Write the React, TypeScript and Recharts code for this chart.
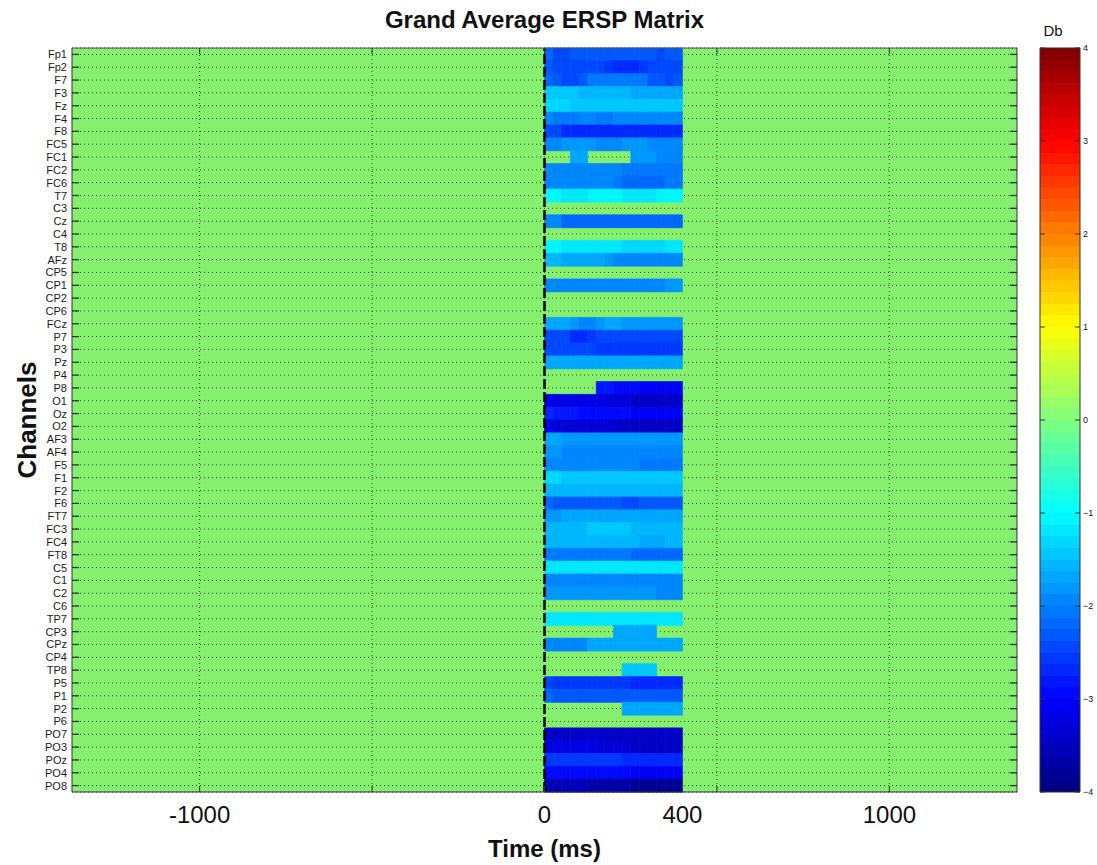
import { Bar, BarChart, CartesianGrid, Cell, ReferenceLine, XAxis, YAxis } from "recharts";

const channels = [
  "Fp1", "Fp2", "F7", "F3", "Fz", "F4", "F8", "FC5", "FC1", "FC2", "FC6", "T7", "C3", "Cz", "C4",
  "T8", "AFz", "CP5", "CP1", "CP2", "CP6", "FCz", "P7", "P3", "Pz", "P4", "P8", "O1", "Oz", "O2",
  "AF3", "AF4", "F5", "F1", "F2", "F6", "FT7", "FC3", "FC4", "FT8", "C5", "C1", "C2", "C6", "TP7",
  "CP3", "CPz", "CP4", "TP8", "P5", "P1", "P2", "P6", "PO7", "PO3", "POz", "PO4", "PO8",
];

// edges of the 25 ms time bins (ms)
const timeBins = [0, 25, 50, 75, 100, 125, 150, 175, 200, 225, 250, 275, 300, 325, 350, 375, 400];

const xLabelTicks = [-1000, 0, 400, 1000];
const xGridTicks = [-1000, -500, 0, 500, 1000];
const colorbarTicks = [-4, -3, -2, -1, 0, 1, 2, 3, 4];

// dB per channel, one value per time bin (0 = not significant)
const ersp: number[][] = [
  [-2.2, -2.4, -2.4, -2.3, -2.3, -2.3, -2.3, -2.3, -2.3, -2.3, -2.3, -2.3, -2.3, -2.4, -2.3, -2.3], // Fp1
  [-2.3, -2.4, -2.4, -2.4, -2.4, -2.4, -2.4, -2.6, -2.7, -2.7, -2.7, -2.6, -2.4, -2.4, -2.4, -2.4], // Fp2
  [-2.2, -2.3, -2.4, -2.4, -2.3, -2.1, -2.1, -2.1, -2.1, -2.1, -2.1, -2.1, -2.3, -2.3, -2.4, -2.3], // F7
  [-1.4, -1.4, -1.5, -1.5, -1.6, -1.6, -1.6, -1.6, -1.6, -1.6, -1.7, -1.7, -1.7, -1.7, -1.7, -1.7], // F3
  [-1.3, -1.3, -1.3, -1.4, -1.4, -1.4, -1.4, -1.5, -1.5, -1.5, -1.5, -1.5, -1.5, -1.5, -1.5, -1.5], // Fz
  [-2.0, -2.1, -2.1, -2.1, -2.0, -2.0, -2.1, -2.1, -2.0, -2.0, -2.0, -2.0, -2.0, -2.0, -2.0, -2.0], // F4
  [-2.5, -2.5, -2.7, -2.7, -2.7, -2.7, -2.7, -2.7, -2.7, -2.7, -2.7, -2.7, -2.7, -2.7, -2.7, -2.7], // F8
  [-1.9, -1.9, -1.8, -1.8, -1.8, -1.8, -1.9, -2.0, -1.9, -1.8, -1.8, -1.8, -1.9, -1.9, -1.9, -1.9], // FC5
  [0, 0, 0, -1.7, -1.7, 0, 0, 0, 0, 0, -1.8, -1.8, -1.8, -1.9, -1.9, -1.9], // FC1
  [-2.0, -2.0, -2.0, -2.0, -2.0, -2.0, -2.0, -2.0, -2.0, -2.1, -2.1, -2.1, -2.1, -2.1, -2.1, -2.1], // FC2
  [-2.0, -2.0, -2.0, -2.0, -2.0, -2.0, -2.0, -2.0, -2.1, -2.2, -2.2, -2.2, -2.2, -2.2, -2.1, -2.1], // FC6
  [-1.1, -1.1, -1.2, -1.2, -1.2, -1.1, -1.1, -1.1, -1.1, -1.2, -1.2, -1.2, -1.2, -1.1, -1.1, -1.1], // T7
  [0, 0, 0, 0, 0, 0, 0, 0, 0, 0, 0, 0, 0, 0, 0, 0], // C3
  [-2.0, -2.0, -2.2, -2.2, -2.2, -2.2, -2.2, -2.2, -2.2, -2.2, -2.2, -2.2, -2.2, -2.2, -2.2, -2.2], // Cz
  [0, 0, 0, 0, 0, 0, 0, 0, 0, 0, 0, 0, 0, 0, 0, 0], // C4
  [-1.1, -1.1, -1.2, -1.2, -1.2, -1.2, -1.2, -1.2, -1.2, -1.3, -1.3, -1.3, -1.3, -1.3, -1.2, -1.2], // T8
  [-1.6, -1.6, -1.7, -1.7, -1.7, -1.7, -1.7, -1.8, -1.9, -1.9, -1.9, -1.9, -1.9, -1.9, -1.9, -1.9], // AFz
  [0, 0, 0, 0, 0, 0, 0, 0, 0, 0, 0, 0, 0, 0, 0, 0], // CP5
  [-2.0, -2.0, -2.0, -2.0, -2.0, -2.0, -2.0, -2.0, -2.0, -2.0, -2.0, -2.0, -2.0, -2.0, -1.8, -1.8], // CP1
  [0, 0, 0, 0, 0, 0, 0, 0, 0, 0, 0, 0, 0, 0, 0, 0], // CP2
  [0, 0, 0, 0, 0, 0, 0, 0, 0, 0, 0, 0, 0, 0, 0, 0], // CP6
  [-1.7, -1.7, -1.7, -1.8, -1.9, -1.9, -1.8, -1.7, -1.7, -1.8, -1.8, -1.8, -1.8, -1.8, -1.8, -1.8], // FCz
  [-2.4, -2.4, -2.5, -2.7, -2.7, -2.6, -2.5, -2.5, -2.5, -2.5, -2.5, -2.5, -2.5, -2.5, -2.5, -2.5], // P7
  [-2.4, -2.4, -2.4, -2.4, -2.4, -2.4, -2.6, -2.6, -2.6, -2.6, -2.6, -2.6, -2.6, -2.6, -2.6, -2.6], // P3
  [-1.7, -1.7, -1.7, -1.7, -1.7, -1.7, -1.7, -1.7, -1.7, -1.7, -1.7, -1.7, -1.7, -1.7, -1.7, -1.7], // Pz
  [0, 0, 0, 0, 0, 0, 0, 0, 0, 0, 0, 0, 0, 0, 0, 0], // P4
  [0, 0, 0, 0, 0, 0, -2.8, -2.8, -2.9, -3.0, -3.0, -3.1, -3.1, -3.1, -3.1, -3.1], // P8
  [-3.2, -3.2, -3.2, -3.2, -3.2, -3.2, -3.2, -3.3, -3.3, -3.3, -3.4, -3.4, -3.4, -3.4, -3.4, -3.4], // O1
  [-2.7, -2.8, -2.8, -2.8, -2.9, -2.9, -2.9, -2.9, -2.9, -3.0, -3.1, -3.1, -3.1, -3.1, -3.1, -3.1], // Oz
  [-3.2, -3.3, -3.3, -3.3, -3.3, -3.3, -3.3, -3.3, -3.4, -3.4, -3.4, -3.4, -3.5, -3.5, -3.5, -3.4], // O2
  [-1.7, -1.7, -1.8, -1.8, -1.8, -1.8, -1.8, -1.8, -1.8, -1.8, -1.8, -1.8, -1.8, -1.8, -1.8, -1.8], // AF3
  [-1.8, -1.8, -1.9, -1.9, -1.9, -1.9, -1.9, -1.9, -1.9, -2.0, -2.0, -2.0, -2.0, -2.0, -2.0, -2.0], // AF4
  [-1.9, -1.9, -1.9, -1.9, -1.9, -1.9, -1.9, -1.9, -2.0, -2.0, -2.0, -2.1, -2.1, -2.1, -2.1, -2.1], // F5
  [-1.35, -1.35, -1.4, -1.5, -1.5, -1.5, -1.5, -1.5, -1.5, -1.5, -1.5, -1.5, -1.5, -1.5, -1.5, -1.5], // F1
  [-1.6, -1.6, -1.6, -1.6, -1.6, -1.6, -1.6, -1.6, -1.6, -1.6, -1.6, -1.6, -1.6, -1.6, -1.6, -1.6], // F2
  [-2.2, -2.3, -2.3, -2.3, -2.3, -2.3, -2.3, -2.3, -2.3, -2.5, -2.5, -2.3, -2.3, -2.3, -2.3, -2.3], // F6
  [-1.8, -1.8, -1.7, -1.7, -1.7, -1.7, -1.7, -1.7, -1.7, -1.7, -1.7, -1.7, -1.7, -1.7, -1.7, -1.7], // FT7
  [-1.6, -1.6, -1.6, -1.6, -1.6, -1.5, -1.5, -1.5, -1.5, -1.5, -1.6, -1.6, -1.6, -1.6, -1.6, -1.6], // FC3
  [-1.6, -1.6, -1.6, -1.6, -1.6, -1.6, -1.6, -1.6, -1.6, -1.6, -1.6, -1.7, -1.7, -1.7, -1.6, -1.6], // FC4
  [-2.1, -2.1, -2.1, -2.1, -2.1, -2.1, -2.1, -2.1, -2.1, -2.1, -2.2, -2.2, -2.2, -2.2, -2.2, -2.2], // FT8
  [-1.25, -1.25, -1.25, -1.25, -1.25, -1.25, -1.25, -1.25, -1.25, -1.25, -1.25, -1.25, -1.25, -1.25, -1.25, -1.25], // C5
  [-1.9, -1.9, -2.0, -2.0, -2.0, -2.0, -2.0, -2.0, -2.0, -2.0, -2.0, -2.0, -2.0, -2.0, -2.0, -2.0], // C1
  [-1.8, -1.8, -1.8, -1.8, -1.8, -1.8, -1.8, -1.8, -1.8, -1.8, -1.8, -1.8, -1.8, -2.0, -2.0, -2.0], // C2
  [0, 0, 0, 0, 0, 0, 0, 0, 0, 0, 0, 0, 0, 0, 0, 0], // C6
  [-1.25, -1.25, -1.25, -1.25, -1.25, -1.25, -1.25, -1.25, -1.25, -1.25, -1.25, -1.15, -1.15, -1.15, -1.15, -1.15], // TP7
  [0, 0, 0, 0, 0, 0, 0, 0, -1.7, -1.7, -1.7, -1.7, -1.7, 0, 0, 0], // CP3
  [-1.9, -1.9, -1.9, -1.9, -1.9, -1.75, -1.75, -1.75, -1.75, -1.75, -1.75, -1.75, -1.75, -1.75, -1.75, -1.75], // CPz
  [0, 0, 0, 0, 0, 0, 0, 0, 0, 0, 0, 0, 0, 0, 0, 0], // CP4
  [0, 0, 0, 0, 0, 0, 0, 0, 0, -1.5, -1.5, -1.5, -1.5, 0, 0, 0], // TP8
  [-2.5, -2.6, -2.6, -2.6, -2.6, -2.6, -2.6, -2.6, -2.6, -2.6, -2.7, -2.7, -2.7, -2.7, -2.7, -2.7], // P5
  [-2.2, -2.35, -2.35, -2.35, -2.35, -2.35, -2.35, -2.35, -2.35, -2.35, -2.35, -2.35, -2.35, -2.35, -2.35, -2.35], // P1
  [0, 0, 0, 0, 0, 0, 0, 0, 0, -1.7, -1.7, -1.7, -1.7, -1.7, -1.7, -1.7], // P2
  [0, 0, 0, 0, 0, 0, 0, 0, 0, 0, 0, 0, 0, 0, 0, 0], // P6
  [-3.4, -3.4, -3.4, -3.4, -3.4, -3.4, -3.4, -3.4, -3.4, -3.4, -3.5, -3.5, -3.5, -3.5, -3.5, -3.5], // PO7
  [-3.2, -3.2, -3.2, -3.2, -3.2, -3.2, -3.3, -3.3, -3.3, -3.3, -3.4, -3.4, -3.4, -3.4, -3.4, -3.4], // PO3
  [-2.6, -2.6, -2.6, -2.6, -2.6, -2.6, -2.6, -2.6, -2.6, -2.7, -2.7, -2.7, -2.7, -2.7, -2.7, -2.7], // POz
  [-2.9, -2.9, -2.9, -3.0, -3.0, -3.0, -3.0, -3.0, -3.0, -3.0, -3.1, -3.1, -3.1, -3.1, -3.1, -3.1], // PO4
  [-3.6, -3.6, -3.6, -3.6, -3.6, -3.7, -3.7, -3.7, -3.7, -3.7, -3.8, -3.8, -3.8, -3.8, -3.8, -3.8], // PO8
];

const PLOT = { left: 72, right: 1017, top: 48, bottom: 792 };
const BG = "#84f06e";
const FONT = "'Liberation Sans', Arial, Helvetica, sans-serif";
const CMIN = -4;
const CMAX = 4;

// matlab jet, 64 levels
const jetRGB = (t: number) => {
  const c = (x: number) => Math.round(255 * Math.max(0, Math.min(1, x)));
  return `rgb(${c(1.5 - Math.abs(4 * t - 3))},${c(1.5 - Math.abs(4 * t - 2))},${c(1.5 - Math.abs(4 * t - 1))})`;
};
const levelT = (k: number) => (k + 0.5) / 64;
const cellColor = (v: number) => {
  if (v === 0) return "transparent";
  const k = Math.max(0, Math.min(63, Math.floor(((v - CMIN) / (CMAX - CMIN)) * 64)));
  return jetRGB(levelT(k));
};

const rows = channels.map((ch) => {
  const row: Record<string, string | number> = { ch };
  timeBins.slice(0, -1).forEach((t, i) => {
    row[`b${i}`] = timeBins[i + 1] - t;
  });
  return row;
});

const cbData = [{ k: "cb", r: [CMIN, CMAX] }];

const XTick = (p: any) => {
  const v = p.payload.value;
  return (
    <g>
      {xGridTicks.includes(v) && (
        <line x1={p.x} x2={p.x} y1={PLOT.bottom} y2={PLOT.bottom - 6} stroke="#333" />
      )}
      {xLabelTicks.includes(v) && (
        <text x={p.x} y={PLOT.bottom + 31} textAnchor="middle" fontSize={24} fill="#111" fontFamily={FONT}>
          {v}
        </text>
      )}
    </g>
  );
};

const TopTick = (p: any) => (
  <line x1={p.x} x2={p.x} y1={PLOT.top} y2={PLOT.top + 6} stroke="#333" />
);

const YTick = (p: any) => (
  <g>
    <line x1={PLOT.left} x2={PLOT.left + 7} y1={p.y} y2={p.y} stroke="#333" strokeWidth={1.3} />
    <text x={PLOT.left - 5} y={p.y} dy={4} textAnchor="end" fontSize={11} fill="#1a1a1a" fontFamily={FONT}>
      {p.payload.value}
    </text>
  </g>
);

const RightTick = (p: any) => (
  <line x1={PLOT.right - 7} x2={PLOT.right} y1={p.y} y2={p.y} stroke="#333" strokeWidth={1.3} />
);

// colorbar: bar spans x 10..50 inside its own chart
const CbTick = (p: any) => {
  const v = p.payload.value;
  return (
    <g>
      <line x1={10} x2={15} y1={p.y} y2={p.y} stroke="#333" />
      <line x1={45} x2={50} y1={p.y} y2={p.y} stroke="#333" />
      <text x={53} y={p.y} dy={3} fontSize={9} fill="#111" fontFamily={FONT}>
        {v < 0 ? `\u2212${-v}` : v}
      </text>
    </g>
  );
};

export default function App() {
  const stops: JSX.Element[] = [];
  for (let k = 0; k < 64; k++) {
    const col = jetRGB(levelT(k));
    stops.push(<stop key={`a${k}`} offset={k / 64} stopColor={col} />);
    stops.push(<stop key={`b${k}`} offset={(k + 1) / 64} stopColor={col} />);
  }

  return (
    <div style={{ position: "relative", width: 1097, height: 865, background: "#fff", fontFamily: FONT }}>
      <style>{"body{margin:0}"}</style>
      <svg width={0} height={0} style={{ position: "absolute" }}>
        <defs>
          <linearGradient id="jetbar" x1="0" y1="1" x2="0" y2="0">
            {stops}
          </linearGradient>
        </defs>
      </svg>

      <div
        style={{
          position: "absolute", left: PLOT.left, width: PLOT.right - PLOT.left, top: 6,
          textAlign: "center", fontSize: 24, fontWeight: "bold", color: "#111",
        }}
      >
        Grand Average ERSP Matrix
      </div>

      <div style={{ position: "absolute", left: 0, top: 0 }}>
        <BarChart
          width={1030}
          height={865}
          data={rows}
          layout="vertical"
          barCategoryGap={0}
          margin={{ top: 47, right: 12, bottom: 33, left: 0 }}
        >
          <CartesianGrid
            xAxisId="bottom"
            yAxisId="left"
            vertical={false}
            fill={BG}
            fillOpacity={1}
            stroke="#3d4a36"
            strokeDasharray="1 3"
          />
          <XAxis
            xAxisId="bottom"
            type="number"
            domain={[-1370, 1370]}
            allowDataOverflow
            ticks={[-1000, -500, 0, 400, 500, 1000]}
            interval={0}
            tickLine={false}
            tickSize={0}
            tickMargin={0}
            tick={XTick}
            axisLine={{ stroke: "#333" }}
            height={40}
          />
          <XAxis
            xAxisId="top"
            orientation="top"
            type="number"
            domain={[-1370, 1370]}
            allowDataOverflow
            ticks={xGridTicks}
            interval={0}
            tickLine={false}
            tickSize={0}
            tick={TopTick}
            axisLine={{ stroke: "#555" }}
            height={1}
          />
          <YAxis
            yAxisId="left"
            type="category"
            dataKey="ch"
            width={72}
            interval={0}
            tickLine={false}
            tickSize={0}
            tickMargin={0}
            tick={YTick}
            axisLine={{ stroke: "#333" }}
          />
          <YAxis
            yAxisId="right"
            orientation="right"
            type="category"
            dataKey="ch"
            width={1}
            interval={0}
            tickLine={false}
            tickSize={0}
            tick={RightTick}
            axisLine={{ stroke: "#333" }}
          />
          {timeBins.slice(0, -1).map((_, i) => (
            <Bar
              key={i}
              dataKey={`b${i}`}
              stackId="t"
              xAxisId="bottom"
              yAxisId="left"
              isAnimationActive={false}
            >
              {ersp.map((r, j) => {
                const c = cellColor(r[i]);
                return <Cell key={j} fill={c} stroke={c} strokeWidth={0.6} />;
              })}
            </Bar>
          ))}
          {xGridTicks
            .filter((v) => v !== 0)
            .map((v) => (
              <ReferenceLine
                key={v}
                x={v}
                xAxisId="bottom"
                yAxisId="left"
                stroke="#3d4a36"
                strokeDasharray="1 3"
              />
            ))}
          <ReferenceLine
            x={0}
            xAxisId="bottom"
            yAxisId="left"
            stroke="#000"
            strokeWidth={2.5}
            strokeDasharray="10 3"
          />
        </BarChart>
      </div>

      <div style={{ position: "absolute", left: 1030, top: 0 }}>
        <BarChart
          width={67}
          height={865}
          data={cbData}
          barCategoryGap={0}
          margin={{ top: 48, right: 0, bottom: 73, left: 10 }}
        >
          <XAxis dataKey="k" type="category" hide />
          <YAxis
            orientation="right"
            type="number"
            domain={[CMIN, CMAX]}
            ticks={colorbarTicks}
            interval={0}
            width={17}
            tickLine={false}
            tickSize={0}
            tickMargin={0}
            axisLine={false}
            tick={CbTick}
          />
          <Bar dataKey="r" fill="url(#jetbar)" stroke="#333" isAnimationActive={false} />
        </BarChart>
      </div>

      <div style={{ position: "absolute", left: 1038, top: 22, width: 30, textAlign: "center", fontSize: 15, color: "#111" }}>
        Db
      </div>

      <div
        style={{
          position: "absolute", left: PLOT.left, width: PLOT.right - PLOT.left, top: 835,
          textAlign: "center", fontSize: 24, fontWeight: "bold", color: "#111",
        }}
      >
        Time (ms)
      </div>

      <div
        style={{
          position: "absolute", left: 27, top: 420, transform: "translate(-50%, -50%) rotate(-90deg)",
          whiteSpace: "nowrap", fontSize: 26, fontWeight: "bold", color: "#111",
        }}
      >
        Channels
      </div>
    </div>
  );
}
